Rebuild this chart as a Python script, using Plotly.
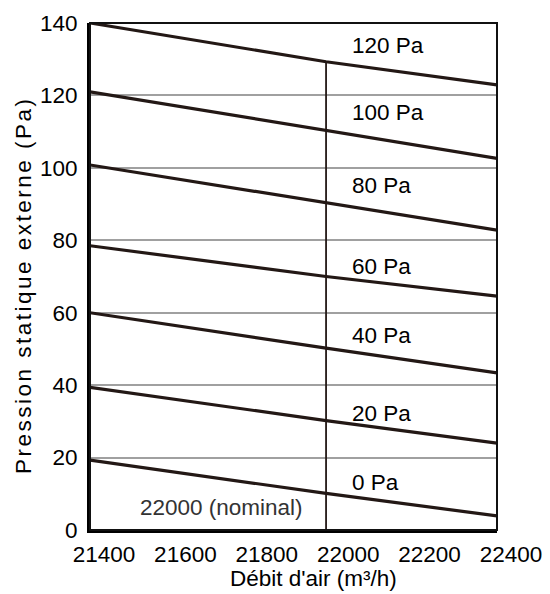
import plotly.graph_objects as go

# air flow positions (m3/h) where the curves were read
flow = [21400, 21980, 22400]

# external static pressure (Pa) for each curve
curves = {
    "0 Pa": [19.3, 10.1, 3.9],
    "20 Pa": [39.4, 30.2, 24.0],
    "40 Pa": [60.0, 50.2, 43.4],
    "60 Pa": [78.5, 70.0, 64.6],
    "80 Pa": [100.8, 90.4, 82.8],
    "100 Pa": [121.0, 110.3, 102.6],
    "120 Pa": [140.0, 129.3, 122.9],
}
label_y = [13.1, 32.3, 53.6, 72.9, 95.1, 115.4, 133.9]
label_x = 22039

nominal_x = 21980
nominal_top = 129.3

x_ticks = [21400, 21600, 21800, 22000, 22200, 22400]
y_ticks = [0, 20, 40, 60, 80, 100, 120, 140]

FONT = "Liberation Sans, Arial, sans-serif"
SIZE = 22.5
LINE = "#231815"

# plot area in page pixels
PL, PR, PT, PB = 89.5, 497, 23, 530
W, H = 550, 594


def px_x(p):
    return (p - PL) / (PR - PL)


def px_y(p):
    return (PB - p) / (PB - PT)


fig = go.Figure()

for name, vals in curves.items():
    fig.add_trace(go.Scatter(x=flow, y=vals, mode="lines", name=name,
                             line=dict(color=LINE, width=3.2)))

# nominal flow marker
fig.add_trace(go.Scatter(x=[nominal_x, nominal_x], y=[0, nominal_top], mode="lines",
                         line=dict(color=LINE, width=1.8)))

for (name, _), ly in zip(curves.items(), label_y):
    fig.add_annotation(x=label_x, y=ly, text=name, showarrow=False, xanchor="left",
                       font=dict(size=SIZE, color="black", family=FONT))

fig.add_annotation(x=21929, y=6.2, text="22000 (nominal)", showarrow=False, xanchor="right",
                   font=dict(size=SIZE, color="#333333", family=FONT))

# axis titles
fig.add_annotation(xref="paper", yref="paper", x=px_x(313), y=px_y(578),
                   xanchor="center", yanchor="middle", text="Débit d'air (m³/h)",
                   showarrow=False, font=dict(size=SIZE, color="black", family=FONT))
fig.add_annotation(xref="paper", yref="paper", x=px_x(22), y=px_y(285),
                   xanchor="center", yanchor="middle",
                   text="Pression statique externe (Pa)", textangle=-90, showarrow=False,
                   font=dict(size=SIZE, color="black", family=FONT))

# thin top/right frame
fig.add_shape(type="rect", xref="paper", yref="paper", x0=0, x1=1, y0=0, y1=1,
              line=dict(color="#111111", width=2), layer="above")

fig.update_layout(
    width=W, height=H,
    margin=dict(l=PL, r=W - PR, t=PT, b=H - PB, pad=0),
    plot_bgcolor="white", paper_bgcolor="white",
    showlegend=False,
    font=dict(family=FONT, size=SIZE, color="black"),
)
fig.update_xaxes(range=[21400, 22400], tickvals=x_ticks, ticktext=[str(v) for v in x_ticks],
                 showgrid=False, zeroline=False, automargin=False,
                 showline=True, linecolor="black", linewidth=3, ticks="",
                 ticklabelshift=14, ticklabelstandoff=2,
                 tickfont=dict(size=SIZE, family=FONT, color="black"))
fig.update_yaxes(range=[0, 140], tickvals=y_ticks, showgrid=True, gridcolor="#a0a0a0",
                 gridwidth=1.5, zeroline=False, showline=True, linecolor="black",
                 linewidth=3, ticks="", ticklabelstandoff=5, automargin=False,
                 tickfont=dict(size=SIZE, family=FONT, color="black"))

# no page margin; the y title in the source is drawn a little spread out
post = """
document.body.style.margin = '0';
document.querySelectorAll('.annotation-text').forEach(function (t) {
  if (t.textContent.indexOf('Pression') === 0) { t.style.letterSpacing = '2.5px'; }
});
"""
fig.write_html("out.html", config={"displayModeBar": False}, post_script=post)
